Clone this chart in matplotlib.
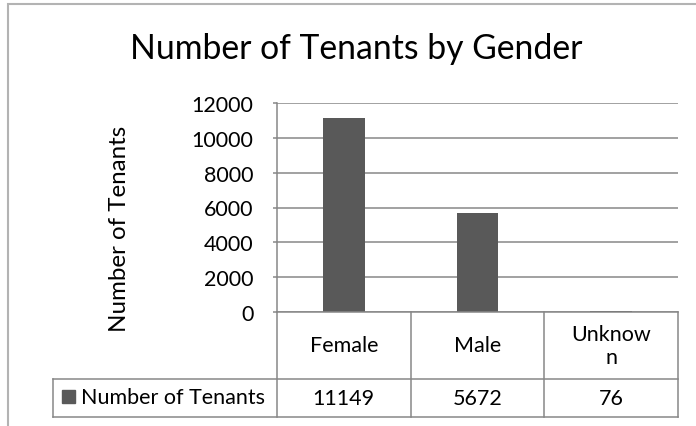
import matplotlib.pyplot as plt
from matplotlib.patches import Rectangle
from matplotlib.lines import Line2D
import matplotlib.transforms as mtransforms

# Data
categories = ['Female', 'Male', 'Unknow\nn']
series_name = 'Number of Tenants'
values = [11149, 5672, 76]
y_ticks = [0, 2000, 4000, 6000, 8000, 10000, 12000]

W, H = 696, 427
BAR_COLOR = '#595959'
LINE_COLOR = '#878787'
FONT = 'Lato'
FS = 15.5

plt.rcParams['font.family'] = [FONT, 'DejaVu Sans']

fig = plt.figure(figsize=(W / 100, H / 100), dpi=100)


def px(x, y):
    # pixel (from top-left) to figure fraction
    return x / W, 1 - y / H


# Outer chart border
fig.patches.append(Rectangle(px(7.5, 440), (W + 20) / W, 435 / H, transform=fig.transFigure,
                             fill=False, edgecolor='#b3b3b3', linewidth=1.5))

# Plot area
left, right, top, bottom = 277, 678, 104, 313
ax = fig.add_axes([left / W, 1 - bottom / H, (right - left) / W, (bottom - top) / H])
x = range(len(categories))
ax.bar(x, values, width=0.31, color=BAR_COLOR, zorder=3)
ax.set_xlim(-0.5, len(categories) - 0.5)
ax.set_ylim(0, 12000)
ax.set_yticks(y_ticks)
ax.set_yticklabels([str(t) for t in y_ticks])
ax.set_xticks([])
ax.grid(axis='y', color=LINE_COLOR, linewidth=1.1, zorder=0)
for s in ['top', 'right', 'bottom']:
    ax.spines[s].set_visible(False)
ax.spines['left'].set_color(LINE_COLOR)
ax.spines['left'].set_linewidth(1.1)
ax.tick_params(axis='y', length=3, width=1.1, color=LINE_COLOR, pad=14, labelsize=FS)

# axis title
fig.text(*px(119, 229), 'Number of Tenants', rotation=90, ha='center', va='center', fontsize=17.4)

# Title
fig.text(*px(356, 49), 'Number of Tenants by Gender', ha='center', va='center', fontsize=24.3)

# Data table below the axis
trans = mtransforms.blended_transform_factory(ax.transData, ax.transAxes)
ah = bottom - top
row1 = -(380 - bottom) / ah
row2 = -(418 - bottom) / ah
lw = 1.1

# horizontal lines
ax.add_line(Line2D([-0.5, 2.5], [0, 0], transform=trans, color=LINE_COLOR, lw=lw, clip_on=False, zorder=4))
legend_left = ax.transData.inverted().transform(
    fig.transFigure.transform(px(53, 0)))[0]
for yy in (row1, row2):
    ax.add_line(Line2D([legend_left, 2.5], [yy, yy], transform=trans, color=LINE_COLOR, lw=lw, clip_on=False))
# vertical lines
for b in [-0.5, 0.5, 1.5, 2.5]:
    ax.add_line(Line2D([b, b], [0, row2], transform=trans, color=LINE_COLOR, lw=lw, clip_on=False))
ax.add_line(Line2D([legend_left, legend_left], [row1, row2], transform=trans, color=LINE_COLOR, lw=lw, clip_on=False))

for i, (c, v) in enumerate(zip(categories, values)):
    ax.text(i, row1 / 2, c, transform=trans, ha='center', va='center', fontsize=FS,
            linespacing=1.2)
    ax.text(i, (row1 + row2) / 2, str(v), transform=trans, ha='center', va='center', fontsize=FS)

# legend key cell
fig.patches.append(Rectangle(px(62, 404), 13 / W, 13 / H, transform=fig.transFigure,
                             color=BAR_COLOR))
fig.text(*px(81, 398), series_name, ha='left', va='center', fontsize=FS)

fig.savefig('out.png', dpi=100)
